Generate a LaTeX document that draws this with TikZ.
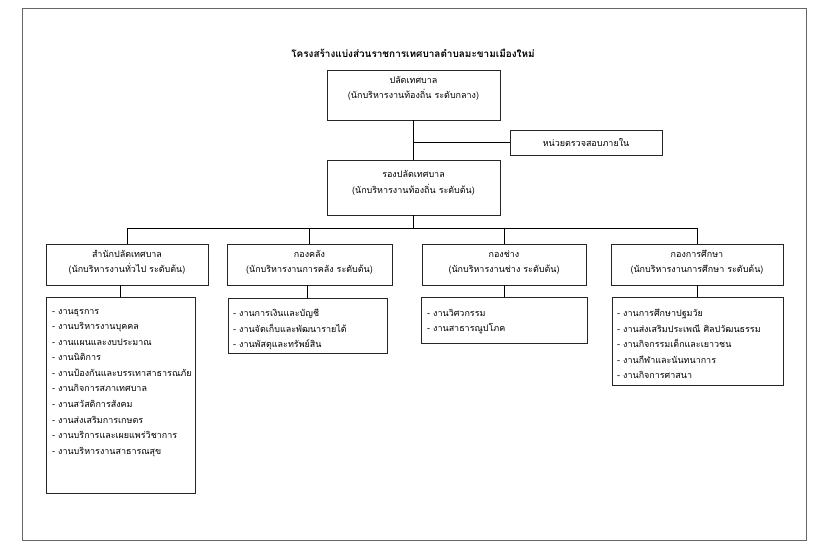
\documentclass[tikz,border=0pt]{standalone}
\usepackage{fontspec}
\setmainfont[Script=Thai]{Loma}
\newfontfamily\thaifont[Script=Thai]{Loma}
\begin{document}
\begin{tikzpicture}[x=1bp,y=-1bp,
  box/.style={draw=black!85,line width=0.7bp,minimum width=#1,inner sep=0pt},
  lbl/.style={font=\thaifont\fontsize{9}{15.5}\selectfont,align=center,inner sep=0pt},
  items/.style={font=\thaifont\fontsize{9}{15.6}\selectfont,align=left,anchor=north west,inner sep=0pt},
  conn/.style={draw=black,line width=0.6bp}]
\useasboundingbox (0,0) rectangle (828,560);
\fill[white] (0,0) rectangle (828,560);
\draw[black!60,line width=0.8bp] (22,8) rectangle (806,540);
\node[font=\thaifont\bfseries\fontsize{10}{12}\selectfont,inner sep=0pt] (title) at (413,53) {โครงสร้างแบ่งส่วนราชการเทศบาลตำบลมะขามเมืองใหม่};
% top
\node[box=173bp,minimum height=50bp] (top) at (413.5,95) {};
\node[lbl] (toptxt) at (413.5,88.5) {ปลัดเทศบาล\\(นักบริหารงานท้องถิ่น ระดับกลาง)};
\node[box=152bp,minimum height=25bp] (audit) at (586,142.5) {};
\node[lbl] (audittxt) at (586,142.5) {หน่วยตรวจสอบภายใน};
\node[box=173bp,minimum height=55bp] (second) at (413.5,187.5) {};
\node[lbl] (secondtxt) at (413.5,183) {รองปลัดเทศบาล\\(นักบริหารงานท้องถิ่น ระดับต้น)};
\coordinate (br) at (top.south |- audit.west);
\draw[conn] (top.south) -- (second.north);
\draw[conn] (br) -- (audit.west);
% headers
\node[box=162bp,minimum height=41bp] (h1) at (127,264.5) {};
\node[lbl] (h1t) at (127,262.5) {สำนักปลัดเทศบาล\\(นักบริหารงานทั่วไป ระดับต้น)};
\node[box=165bp,minimum height=41bp] (h2) at (309.5,264.5) {};
\node[lbl] (h2t) at (309.5,262.5) {กองคลัง\\(นักบริหารงานการคลัง ระดับต้น)};
\node[box=164bp,minimum height=41bp] (h3) at (504,264.5) {};
\node[lbl] (h3t) at (504,262.5) {กองช่าง\\(นักบริหารงานช่าง ระดับต้น)};
\node[box=172bp,minimum height=41bp] (h4) at (697,264.5) {};
\node[lbl] (h4t) at (697,262.5) {กองการศึกษา\\(นักบริหารงานการศึกษา ระดับต้น)};
\coordinate (bus) at (413.5,228);
\draw[conn] (second.south) -- (bus);
\draw[conn] (h1.north |- bus) -- (h4.north |- bus);
\foreach \h in {h1,h2,h3,h4} \draw[conn] (\h.north |- bus) -- (\h.north);
% lists
\node[box=149bp,minimum height=196bp] (l1) at (120.5,395) {};
\node[box=159bp,minimum height=55bp] (l2) at (307.5,325.5) {};
\node[box=166bp,minimum height=46bp] (l3) at (504,320) {};
\node[box=171bp,minimum height=88bp] (l4) at (697.5,341) {};
\foreach \h/\l in {h1/l1,h2/l2,h3/l3,h4/l4} \draw[conn] (\l.north |- \h.south) -- (\l.north);
\node[items] (l1t) at (52,309) {- งานธุรการ\\- งานบริหารงานบุคคล\\- งานแผนและงบประมาณ\\- งานนิติการ\\- งานป้องกันและบรรเทาสาธารณภัย\\- งานกิจการสภาเทศบาล\\- งานสวัสดิการสังคม\\- งานส่งเสริมการเกษตร\\- งานบริการและเผยแพร่วิชาการ\\- งานบริหารงานสาธารณสุข};
\node[items] (l2t) at (233,309) {- งานการเงินและบัญชี\\- งานจัดเก็บและพัฒนารายได้\\- งานพัสดุและทรัพย์สิน};
\node[items] (l3t) at (427,309) {- งานวิศวกรรม\\- งานสาธารณูปโภค};
\node[items] (l4t) at (617,309) {- งานการศึกษาปฐมวัย\\- งานส่งเสริมประเพณี ศิลปวัฒนธรรม\\- งานกิจกรรมเด็กและเยาวชน\\- งานกีฬาและนันทนาการ\\- งานกิจการศาสนา};
\end{tikzpicture}
\end{document}
